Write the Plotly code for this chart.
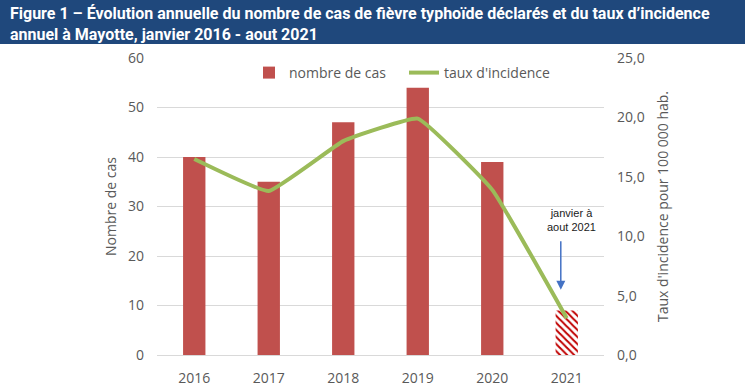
import plotly.graph_objects as go

years = ["2016", "2017", "2018", "2019", "2020", "2021"]
cases = [40, 35, 47, 54, 39, 9]
incidence = [16.5, 13.8, 18.0, 19.9, 13.9, 3.1]
left_ticks = [0, 10, 20, 30, 40, 50, 60]
right_ticks = [0, 5, 10, 15, 20, 25]
right_labels = ["0,0", "5,0", "10,0", "15,0", "20,0", "25,0"]

title_text = ("Figure 1 – Évolution annuelle du nombre de cas de fièvre typhoïde déclarés et du taux d’incidence"
              "<br>annuel à Mayotte, janvier 2016 - aout 2021")

BAR = "#C0504D"
GREEN = "#9BBB59"
GRAY = "#595959"
FONT = "Open Sans"

fig = go.Figure()
# full years: solid bars
fig.add_trace(go.Bar(
    x=years[:5], y=cases[:5], name="nombre de cas",
    marker=dict(color=BAR, line=dict(width=0)),
    yaxis="y", legendgroup="cas",
))
# partial year 2021: hatched bar
fig.add_trace(go.Bar(
    x=years[5:], y=cases[5:], name="nombre de cas", showlegend=False,
    marker=dict(color="white", line=dict(width=0),
                pattern=dict(shape="\\", fgcolor="#C00000", fgopacity=1,
                             size=5, solidity=0.4, fillmode="overlay")),
    yaxis="y", legendgroup="cas",
))
fig.add_trace(go.Scatter(
    x=years, y=incidence, name="taux d'incidence", mode="lines",
    line=dict(color=GREEN, width=4, shape="spline", smoothing=0.3),
    yaxis="y2",
))

W, H = 750, 388
L, R, T, B = 157, 146, 58, 33
pw = W - L - R
ph = H - T - B

def px_x(x):
    return (x - L) / pw

def px_y(y):
    return (H - B - y) / ph

fig.update_layout(
    width=W, height=H,
    margin=dict(l=L, r=R, t=T, b=B, autoexpand=False),
    paper_bgcolor="white", plot_bgcolor="white",
    barmode="overlay",
    bargap=0.70,
    font=dict(family=FONT, color=GRAY, size=13),
    showlegend=True,
    legend=dict(orientation="h", x=px_x(249), xanchor="left", y=px_y(57), yanchor="top",
                entrywidth=110, entrywidthmode="pixels",
                font=dict(size=14, color=GRAY, family=FONT), bgcolor="rgba(0,0,0,0)"),
    xaxis=dict(type="category", categoryorder="array", categoryarray=years,
               showgrid=False, showline=True, linecolor="#D9D9D9",
               linewidth=1, ticks="", tickfont=dict(size=14, color=GRAY, family=FONT),
               ticklabelstandoff=10, range=[-0.5, 5.5], automargin=False),
    yaxis=dict(range=[0, 60], tickvals=left_ticks, showgrid=True, gridcolor="#D9D9D9",
               gridwidth=1, zeroline=False, showline=False, automargin=False,
               tickfont=dict(size=14, color=GRAY, family=FONT), ticklabelstandoff=12,
               title=dict(text="Nombre de cas", font=dict(size=14, color=GRAY, family=FONT),
                          standoff=8)),
    yaxis2=dict(range=[0, 25], tickvals=right_ticks, ticktext=right_labels, overlaying="y",
                side="right", showgrid=False, zeroline=False, showline=False, automargin=False,
                tickfont=dict(size=14, color=GRAY, family=FONT), ticklabelstandoff=12,
                title=dict(text="Taux d'incidence pour 100 000 hab.",
                           font=dict(size=14, color=GRAY, family=FONT), standoff=14)),
)

# title banner
fig.add_shape(type="rect", xref="paper", yref="paper",
              x0=px_x(0), x1=px_x(745), y0=px_y(44), y1=px_y(0),
              fillcolor="#1F487C", line=dict(width=0), layer="above")
fig.add_annotation(xref="paper", yref="paper", x=px_x(8), y=px_y(2),
                   xanchor="left", yanchor="top", align="left", showarrow=False,
                   text="<b>" + title_text + "</b>",
                   font=dict(family="Roboto", size=16, color="white"))

# note annotation
fig.add_annotation(x=5, y=27.3, xref="x", yref="y", text="janvier à<br>aout 2021",
                   showarrow=False, xshift=5, align="center",
                   font=dict(family="Liberation Sans, Arial", size=11, color="#1A1A1A"))
fig.add_annotation(x=4.92, y=13.2, xref="x", yref="y", text="", showarrow=True,
                   ax=0, ay=-50, arrowhead=2, arrowsize=1.2, arrowwidth=1.5,
                   arrowcolor="#4472C4")

fig.write_html("out.html", config={"displayModeBar": False},
               post_script="document.body.style.margin='0';")
